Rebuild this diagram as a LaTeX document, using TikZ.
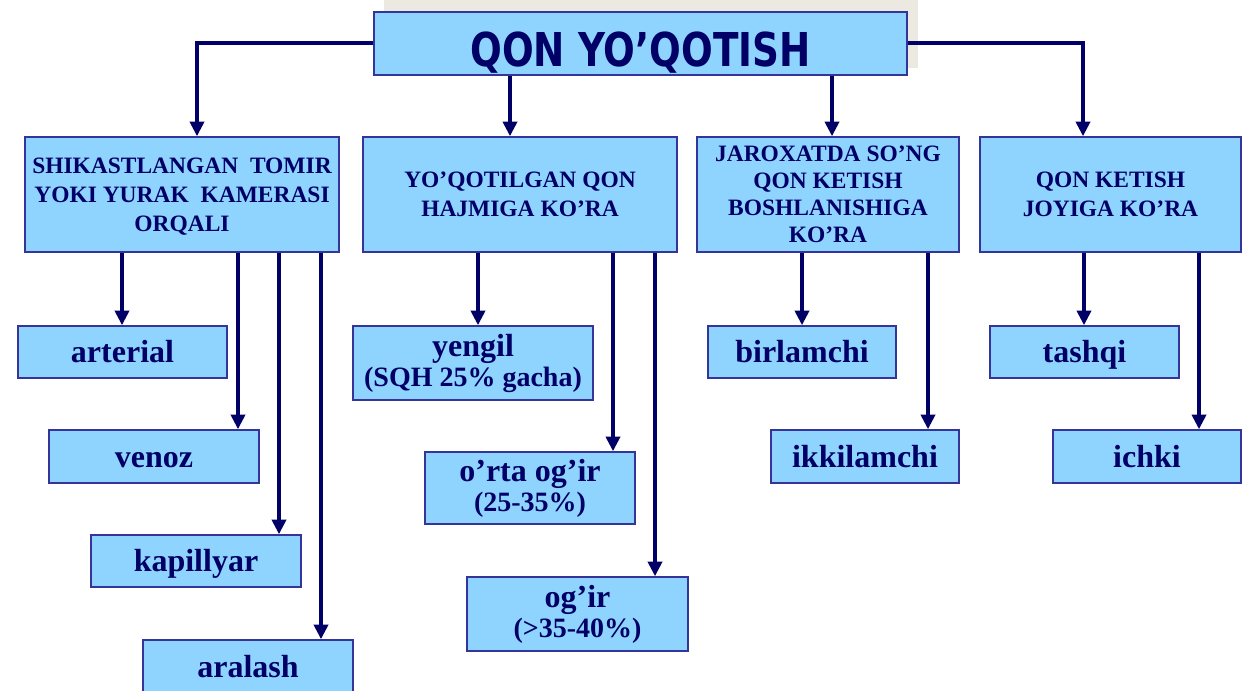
\documentclass[tikz,border=0pt]{standalone}
\usepackage{fontspec}
\setmainfont{Liberation Serif}
\newfontfamily\titlefont[FakeStretch=0.8]{DejaVu Sans Bold}
\usetikzlibrary{arrows.meta}
\definecolor{navy}{HTML}{000066}
\definecolor{boxfill}{HTML}{8ED4FF}
\definecolor{boxline}{HTML}{34349A}
\definecolor{titleback}{HTML}{ECE9E1}
\tikzset{
	box/.style={draw=boxline, fill=boxfill, line width=1.1pt, inner sep=0pt, align=center, text=navy},
	headbox/.style={box, minimum height=86.25pt, text depth=-2.5pt, font=\bfseries\fontsize{17.6}{21.75}\selectfont},
	leafbox/.style={box, font=\bfseries\fontsize{24}{22.5}\selectfont},
	oneline/.style={leafbox, text height=16pt, text depth=0pt},
	link/.style={draw=navy, line width=3pt, -{Triangle[width=10.5pt,length=11pt]}},
}
\newcommand{\subline}{\fontsize{21}{22.5}\selectfont}

\begin{document}
\begin{tikzpicture}[x=0.75pt, y=-0.75pt]
		%%%%% START %%%%%
		\useasboundingbox (0, 0) rectangle (1242, 691);
		
		\fill[titleback] (384, 0) rectangle (918, 68);
		\node[box, minimum width=399.75pt, minimum height=47.25pt, text height=34pt, text depth=0pt,
			font=\titlefont\fontsize{35}{40}\selectfont] (title) at (640.5, 43.5) {QON YO’QOTISH};
		
		\node[headbox, minimum width=235.5pt] (shik) at (182, 194.5) {SHIKASTLANGAN\ \ TOMIR\\YOKI YURAK\ \ KAMERASI\\ORQALI};
		\node[headbox, minimum width=235.5pt] (hajm) at (520, 194.5) {YO’QOTILGAN QON\\HAJMIGA KO’RA};
		\node[headbox, minimum width=196.5pt, font=\bfseries\fontsize{17.6}{20.25}\selectfont] (jarox) at (828, 194.5) {JAROXATDA SO’NG\\QON KETISH\\BOSHLANISHIGA\\KO’RA};
		\node[headbox, minimum width=195.75pt] (joy) at (1110.5, 194.5) {QON KETISH\\JOYIGA KO’RA};
		
		\draw[link] (title.west) -| (197, 0 |- shik.north);
		\draw[link] (510, 0 |- title.south) -- (510, 0 |- hajm.north);
		\draw[link] (832, 0 |- title.south) -- (832, 0 |- jarox.north);
		\draw[link] (title.east) -| (1083, 0 |- joy.north);
		
		\node[oneline, minimum width=156.75pt, minimum height=39pt] (art) at (122.5, 352) {arterial};
		\node[oneline, minimum width=157.5pt, minimum height=39.75pt] (ven) at (154, 456.5) {venoz};
		\node[oneline, minimum width=157.5pt, minimum height=39pt] (kap) at (196, 561) {kapillyar};
		\node[oneline, minimum width=157.5pt, minimum height=40.5pt] (aral) at (248, 667) {aralash};
		
		\draw[link] (122, 0 |- shik.south) -- (122, 0 |- art.north);
		\draw[link] (238, 0 |- shik.south) -- (238, 0 |- ven.north);
		\draw[link] (279, 0 |- shik.south) -- (279, 0 |- kap.north);
		\draw[link] (321, 0 |- shik.south) -- (321, 0 |- aral.north);
		
		\node[leafbox, minimum width=180pt, minimum height=55.5pt] (yeng) at (473, 363) {yengil\\\subline(SQH 25\% gacha)};
		\node[leafbox, minimum width=157.5pt, minimum height=54pt] (orta) at (530, 488) {o’rta og’ir\\\subline(25-35\%)};
		\node[leafbox, minimum width=165.75pt, minimum height=55.5pt] (ogir) at (577.5, 614) {og’ir\\\subline(>35-40\%)};
		
		\draw[link] (478, 0 |- hajm.south) -- (478, 0 |- yeng.north);
		\draw[link] (613, 0 |- hajm.south) -- (613, 0 |- orta.north);
		\draw[link] (655, 0 |- hajm.south) -- (655, 0 |- ogir.north);
		
		\node[oneline, minimum width=141pt, minimum height=39pt] (birl) at (802, 352) {birlamchi};
		\node[oneline, minimum width=141pt, minimum height=39.75pt] (ikki) at (865, 456.5) {ikkilamchi};
		
		\draw[link] (802, 0 |- jarox.south) -- (802, 0 |- birl.north);
		\draw[link] (928, 0 |- jarox.south) -- (928, 0 |- ikki.north);
		
		\node[oneline, minimum width=141.75pt, minimum height=39pt] (tash) at (1084.5, 352) {tashqi};
		\node[oneline, minimum width=141pt, minimum height=39.75pt] (ichk) at (1147, 456.5) {ichki};
		
		\draw[link] (1084, 0 |- joy.south) -- (1084, 0 |- tash.north);
		\draw[link] (1199, 0 |- joy.south) -- (1199, 0 |- ichk.north);
		
		%%%%% END %%%%%
\end{tikzpicture}
\end{document}
